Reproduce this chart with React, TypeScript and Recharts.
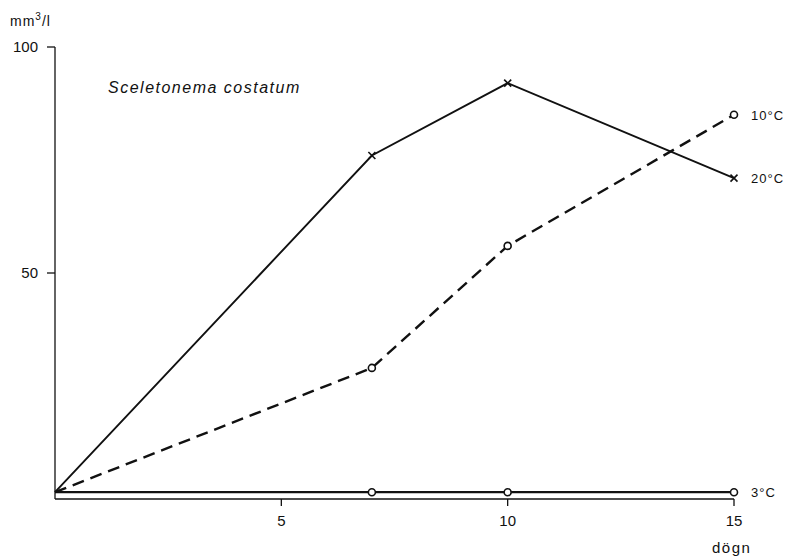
import React from "react"
import { LineChart, Line, XAxis, YAxis } from "recharts"

const days = [0, 7, 10, 15]
const temp20 = [1.5, 76, 92, 71]
const temp10 = [1.5, 29, 56, 85]
const temp3 = [1.5, 1.5, 1.5, 1.5]
const xTicks = [5, 10, 15]
const yTicks = [50, 100]

const data = days.map((d, i) => ({ day: d, t20: temp20[i], t10: temp10[i], t3: temp3[i] }))

const FONT = "'Liberation Sans', Arial, sans-serif"
const INK = "#111"

const makeDot = (kind: "x" | "o", label: string) => (props: any) => {
  const { cx, cy, index } = props
  if (cx == null || cy == null) return <g key={`d-${index}`} />
  const last = index === days.length - 1
  const mark =
    index === 0 ? null : kind === "x" ? (
      <g stroke={INK} strokeWidth={1.6}>
        <line x1={cx - 3.5} y1={cy - 3.5} x2={cx + 3.5} y2={cy + 3.5} />
        <line x1={cx - 3.5} y1={cy + 3.5} x2={cx + 3.5} y2={cy - 3.5} />
      </g>
    ) : (
      <circle cx={cx} cy={cy} r={3.5} fill="#fff" stroke={INK} strokeWidth={1.6} />
    )
  return (
    <g key={`d-${index}`}>
      {mark}
      {last && (
        <text x={cx + 17} y={cy + 5} fontSize={13} fontFamily={FONT} fill={INK} letterSpacing={1}>
          {label}
        </text>
      )}
    </g>
  )
}

export default function App() {
  return (
    <div style={{ position: "absolute", left: 0, top: 0, width: 789, height: 559, background: "#fff" }}>
      <LineChart width={789} height={559} data={data} margin={{ top: 47, right: 55, bottom: 0, left: 0 }}>
        <XAxis
          dataKey="day"
          type="number"
          domain={[0, 15]}
          ticks={xTicks}
          height={60}
          tickSize={7}
          tickMargin={9}
          stroke={INK}
          strokeWidth={1.3}
          tick={{ fill: INK, fontSize: 15, fontFamily: FONT }}
        />
        <YAxis
          type="number"
          domain={[0, 100]}
          ticks={yTicks}
          width={55}
          tickSize={8}
          tickMargin={9}
          stroke={INK}
          strokeWidth={1.3}
          tick={{ fill: INK, fontSize: 15, fontFamily: FONT }}
        />
        <Line
          dataKey="t3"
          stroke={INK}
          strokeWidth={2.2}
          dot={makeDot("o", "3°C")}
          isAnimationActive={false}
        />
        <Line
          dataKey="t10"
          stroke={INK}
          strokeWidth={2.4}
          strokeDasharray="12 7"
          dot={makeDot("o", "10°C")}
          isAnimationActive={false}
        />
        <Line
          dataKey="t20"
          stroke={INK}
          strokeWidth={1.9}
          dot={makeDot("x", "20°C")}
          isAnimationActive={false}
        />
        <text x={108} y={93} fontSize={16} fontStyle="italic" fontFamily={FONT} fill={INK} letterSpacing={1.5}>
          Sceletonema costatum
        </text>
        <text x={10} y={26} fontSize={14} fontFamily={FONT} fill={INK} letterSpacing={1}>
          mm<tspan dy={-6} fontSize={10}>3</tspan>
          <tspan dy={6}>/l</tspan>
        </text>
        <text x={712} y={553} fontSize={15} fontFamily={FONT} fill={INK} letterSpacing={1.5}>
          dögn
        </text>
      </LineChart>
    </div>
  )
}
